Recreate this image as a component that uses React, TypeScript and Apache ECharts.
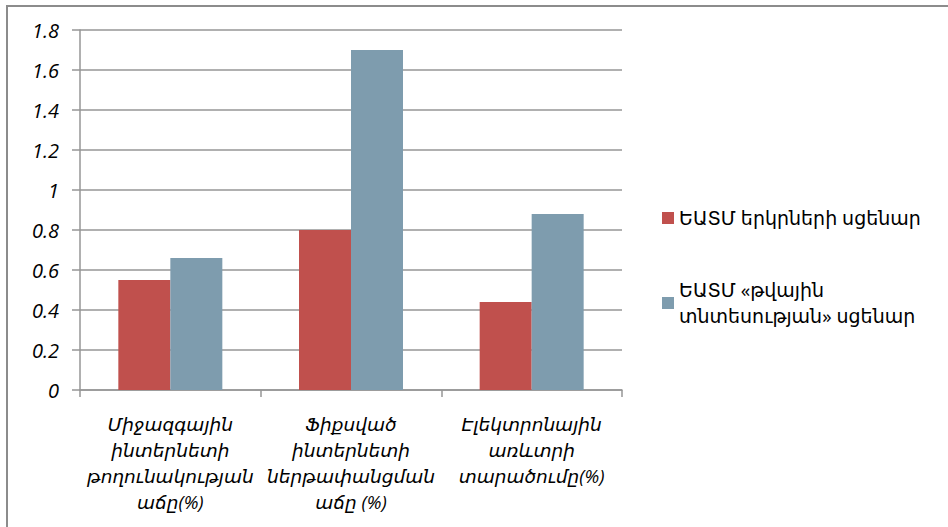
import React, { useEffect, useRef } from "react";
import * as echarts from "echarts";

const categories = [
  "Միջազգային\nինտերնետի\nթողունակության\nաճը(%)",
  "Ֆիքսված\nինտերնետի\nներթափանցման\nաճը (%)",
  "Էլեկտրոնային\nառևտրի\nտարածումը(%)",
];
const seriesNames = ["ԵԱՏՄ երկրների սցենար", "ԵԱՏՄ «թվային\nտնտեսության» սցենար"];
const eaeuValues = [0.55, 0.8, 0.44];
const digitalValues = [0.66, 1.7, 0.88];

const FONT = "'Open Sans', 'DejaVu Sans', sans-serif";
const GRID_COLOR = "#969696";

export default function App() {
  const ref = useRef<HTMLDivElement>(null);
  useEffect(() => {
    if (!ref.current) return;
    const chart = echarts.init(ref.current, undefined, { renderer: "svg" });
    chart.setOption({
      animation: false,
      backgroundColor: "#ffffff",
      grid: { left: 80, top: 30, right: 326, bottom: 137, containLabel: false },
      legend: {
        orient: "vertical",
        left: 657,
        top: 200,
        itemWidth: 12,
        itemHeight: 12,
        itemGap: 46,
        icon: "rect",
        textStyle: { fontFamily: FONT, fontSize: 19, color: "#000", lineHeight: 26 },
        data: seriesNames,
      },
      graphic: [
        {
          type: "rect",
          shape: { x: 7, y: 6, width: 960, height: 560 },
          style: { fill: "none", stroke: "#8c8c8c", lineWidth: 2 },
          silent: true,
        },
      ],
      xAxis: {
        type: "category",
        data: categories,
        axisLine: { show: true, lineStyle: { color: GRID_COLOR, width: 1.5 } },
        axisTick: { show: true, length: 7, lineStyle: { color: GRID_COLOR, width: 1.5 } },
        axisLabel: {
          interval: 0,
          margin: 20,
          fontFamily: FONT,
          fontStyle: "italic",
          fontSize: 18.5,
          lineHeight: 26,
          color: "#000",
        },
      },
      yAxis: {
        type: "value",
        min: 0,
        max: 1.8,
        interval: 0.2,
        axisLine: { show: true, lineStyle: { color: GRID_COLOR, width: 1.5 } },
        axisTick: { show: true, length: 8, lineStyle: { color: GRID_COLOR, width: 1.5 } },
        splitLine: { show: true, lineStyle: { color: GRID_COLOR, width: 1.5 } },
        axisLabel: {
          margin: 21,
          fontFamily: FONT,
          fontStyle: "italic",
          fontSize: 20,
          color: "#000",
        },
      },
      series: [
        {
          name: seriesNames[0],
          type: "bar",
          data: eaeuValues,
          barWidth: 52,
          barGap: "0%",
          itemStyle: { color: "#C0504D" },
        },
        {
          name: seriesNames[1],
          type: "bar",
          data: digitalValues,
          barWidth: 52,
          barGap: "0%",
          itemStyle: { color: "#7E9CAE" },
        },
      ],
    });
    return () => chart.dispose();
  }, []);
  return (
    <div
      ref={ref}
      style={{ position: "absolute", left: 0, top: 0, width: 948, height: 527 }}
    />
  );
}
